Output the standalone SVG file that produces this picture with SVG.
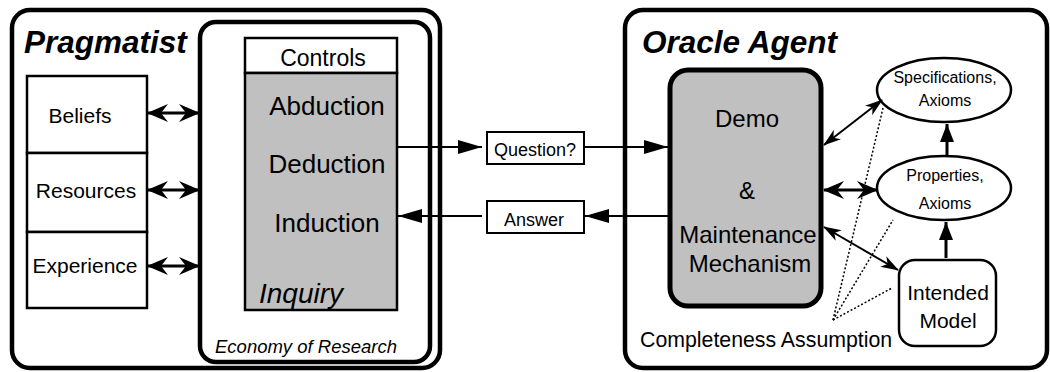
<svg xmlns="http://www.w3.org/2000/svg" width="1050" height="372" viewBox="0 0 1050 372">
  <style>
    text { font-family: "Liberation Sans", Arial, Helvetica, sans-serif; fill: #000; }
    .title { font-size: 31.5px; font-weight: bold; font-style: italic; }
    .frame { fill: #fff; stroke: #000; stroke-width: 4.5; }
    .box { fill: #fff; stroke: #000; stroke-width: 2.5; }
    .grey { fill: #c0c0c0; stroke: #000; stroke-width: 2.5; }
    .lbl21 { font-size: 21px; text-anchor: middle; }
    .lbl26 { font-size: 26px; text-anchor: middle; }
    .lbl24 { font-size: 24px; text-anchor: middle; }
    .lbl18 { font-size: 18px; text-anchor: middle; }
    .lbl16 { font-size: 16px; text-anchor: middle; }
    .thick2 { stroke: #000; stroke-width: 3; fill: none; }
    .thin2 { stroke: #000; stroke-width: 2; fill: none; }
    .dots { stroke: #000; stroke-width: 1.5; stroke-dasharray: 2 2; fill: none; }
  </style>
  <defs>
    <!-- barbed head for the thick two-way links -->
    <marker id="barb" markerUnits="userSpaceOnUse" markerWidth="21" markerHeight="18" viewBox="0 0 21 18" refX="20" refY="9" orient="auto-start-reverse">
      <path d="M0,0 L21,9 L0,18 L7,9 z" fill="#000"/>
    </marker>
    <!-- narrow barbed head for the thin two-way links -->
    <marker id="barbThin" markerUnits="userSpaceOnUse" markerWidth="18" markerHeight="12" viewBox="0 0 18 12" refX="17" refY="6" orient="auto-start-reverse">
      <path d="M0,0 L18,6 L0,12 L5,6 z" fill="#000"/>
    </marker>
    <!-- plain triangle head for the message arrows -->
    <marker id="tri" markerUnits="userSpaceOnUse" markerWidth="24" markerHeight="14" viewBox="0 0 24 14" refX="24" refY="7" orient="auto">
      <path d="M0,0 L24,7 L0,14 z" fill="#000"/>
    </marker>
    <!-- short triangle head for the upward derivation arrows -->
    <marker id="up" markerUnits="userSpaceOnUse" markerWidth="18" markerHeight="14" viewBox="0 0 18 14" refX="18" refY="7" orient="auto">
      <path d="M0,0 L18,7 L0,14 z" fill="#000"/>
    </marker>
  </defs>

  <!-- Pragmatist frame -->
  <g id="pragmatist">
    <rect class="frame" x="12" y="10" width="428" height="358" rx="18"/>
    <text class="title" x="24" y="53">Pragmatist</text>
  </g>

  <!-- Economy of Research frame -->
  <g id="economy">
    <rect class="frame" x="200" y="22" width="230" height="340" rx="16"/>
    <text x="215" y="353" style="font-size:18.5px;font-style:italic">Economy of Research</text>
  </g>

  <g id="beliefs">
    <rect class="box" x="27" y="76" width="120" height="77"/>
    <text class="lbl21" x="80" y="123">Beliefs</text>
  </g>
  <g id="resources">
    <rect class="box" x="27" y="153" width="120" height="79"/>
    <text class="lbl21" x="86" y="198">Resources</text>
  </g>
  <g id="experience">
    <rect class="box" x="27" y="232" width="120" height="76"/>
    <text class="lbl21" x="85" y="273">Experience</text>
  </g>

  <!-- Inquiry block with its controls header -->
  <g id="inquiry">
    <rect class="box" x="245" y="38" width="152" height="35"/>
    <text x="323" y="66" style="font-size:23px;text-anchor:middle">Controls</text>
    <rect class="grey" x="245" y="73" width="152" height="237"/>
    <text class="lbl26" x="327" y="115">Abduction</text>
    <text class="lbl26" x="327" y="173">Deduction</text>
    <text class="lbl26" x="327" y="232">Induction</text>
    <text x="259" y="303" style="font-size:28px;font-style:italic">Inquiry</text>
  </g>

  <g id="question">
    <rect class="box" x="487" y="132" width="97" height="32" style="stroke-width:2"/>
    <text class="lbl18" x="535" y="156">Question?</text>
  </g>
  <g id="answer">
    <rect class="box" x="487" y="201" width="97" height="32" style="stroke-width:2"/>
    <text class="lbl18" x="534" y="226">Answer</text>
  </g>

  <!-- Oracle Agent frame -->
  <g id="oracle">
    <rect class="frame" x="625" y="10" width="422" height="358" rx="18"/>
    <text class="title" x="642" y="53">Oracle Agent</text>
    <text x="640" y="347" style="font-size:21.3px">Completeness Assumption</text>
  </g>

  <g id="demo">
    <rect x="670" y="70" width="151" height="236" rx="18" fill="#c0c0c0" stroke="#000" stroke-width="5"/>
    <text class="lbl24" x="747" y="127">Demo</text>
    <text class="lbl24" x="747" y="199">&amp;</text>
    <text class="lbl24" x="748" y="243">Maintenance</text>
    <text class="lbl24" x="750" y="272">Mechanism</text>
  </g>

  <g id="specifications">
    <ellipse class="box" cx="944" cy="90" rx="67" ry="32"/>
    <text class="lbl16" x="945" y="83">Specifications,</text>
    <text class="lbl16" x="945" y="106">Axioms</text>
  </g>
  <g id="properties">
    <ellipse class="box" cx="944" cy="188" rx="67" ry="32"/>
    <text class="lbl16" x="945" y="181">Properties,</text>
    <text class="lbl16" x="945" y="209">Axioms</text>
  </g>
  <g id="intended-model">
    <rect class="box" x="899" y="260" width="97" height="86" rx="16"/>
    <text class="lbl21" x="948" y="300">Intended</text>
    <text class="lbl21" x="948" y="328">Model</text>
  </g>

  <g id="connectors">
    <!-- knowledge sources to the inquiry frame -->
    <line class="thick2" x1="148" y1="113" x2="199" y2="113" marker-start="url(#barb)" marker-end="url(#barb)"/>
    <line class="thick2" x1="148" y1="190" x2="199" y2="190" marker-start="url(#barb)" marker-end="url(#barb)"/>
    <line class="thick2" x1="148" y1="266" x2="199" y2="266" marker-start="url(#barb)" marker-end="url(#barb)"/>

    <!-- question and answer exchange -->
    <line class="thin2" x1="397" y1="147" x2="482" y2="147" marker-end="url(#tri)"/>
    <line class="thin2" x1="584" y1="147" x2="668" y2="147" marker-end="url(#tri)"/>
    <line class="thin2" x1="668" y1="216" x2="585" y2="216" marker-end="url(#tri)"/>
    <line class="thin2" x1="482" y1="216" x2="398" y2="216" marker-end="url(#tri)"/>

    <!-- demo mechanism to its knowledge -->
    <line class="thin2" x1="824" y1="145" x2="882" y2="100" marker-start="url(#barbThin)" marker-end="url(#barbThin)"/>
    <line class="thick2" x1="824" y1="190" x2="877" y2="190" marker-start="url(#barb)" marker-end="url(#barb)"/>
    <line class="thin2" x1="824" y1="227" x2="898" y2="270" marker-start="url(#barbThin)" marker-end="url(#barbThin)"/>

    <!-- derivation upwards -->
    <line class="thick2" x1="947" y1="156" x2="947" y2="124" marker-end="url(#up)"/>
    <line class="thick2" x1="946" y1="258" x2="946" y2="222" marker-end="url(#up)"/>

    <!-- completeness assumption -->
    <line class="dots" x1="833" y1="320" x2="883" y2="108"/>
    <line class="dots" x1="833" y1="320" x2="893" y2="220"/>
    <line class="dots" x1="833" y1="320" x2="892" y2="288"/>
  </g>
</svg>
